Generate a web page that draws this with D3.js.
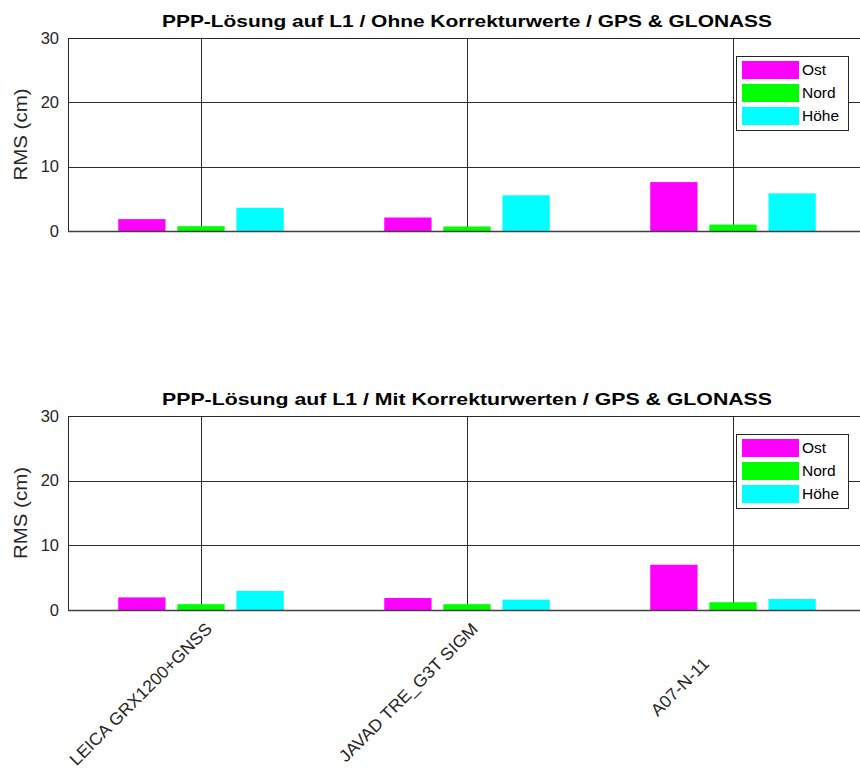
<!DOCTYPE html>
<html>
<head>
<meta charset="utf-8">
<script src="https://cdn.jsdelivr.net/npm/d3@7"></script>
<style>
  html, body { margin: 0; padding: 0; background: #fff; }
  svg text { font-family: "Liberation Sans", Arial, Helvetica, sans-serif; }
</style>
</head>
<body>
<svg id="chart" width="860" height="771"></svg>
<script>
// Receivers (category axis); MATLAB-style char array rows are padded to equal length
const categories = ["LEICA GRX1200+GNSS", "JAVAD TRE_G3T SIGM", "A07-N-11"];
const seriesNames = ["Ost", "Nord", "Höhe"];
const seriesColors = ["#ff00ff", "#00ff00", "#00ffff"];
const yTicks = [0, 10, 20, 30];

// RMS (cm) without correction values
const ohneOst   = [1.85, 2.1, 7.6];
const ohneNord  = [0.75, 0.7, 1.0];
const ohneHoehe = [3.6, 5.55, 5.85];

// RMS (cm) with correction values
const mitOst   = [1.95, 1.85, 7.0];
const mitNord  = [0.9, 0.9, 1.2];
const mitHoehe = [2.95, 1.6, 1.7];

const panels = [
  { title: "PPP-Lösung auf L1 / Ohne Korrekturwerte / GPS & GLONASS",
    series: [ohneOst, ohneNord, ohneHoehe], top: 38, bottom: 231, showX: false },
  { title: "PPP-Lösung auf L1 / Mit Korrekturwerten / GPS & GLONASS",
    series: [mitOst, mitNord, mitHoehe], top: 416, bottom: 610, showX: true }
];

const svg = d3.select("#chart");
const left = 68, right = 866;
const axisColor = "#262626";
const padLen = d3.max(categories, c => c.length);

// grouped bar geometry (in category units)
const nSeries = seriesNames.length;
const groupWidth = Math.min(0.8, nSeries / (nSeries + 1.5));
const step = groupWidth / nSeries;
const barW = step * 0.8;

const x = d3.scaleLinear().domain([0.5, categories.length + 0.5]).range([left, right]);

panels.forEach(p => {
  const y = d3.scaleLinear().domain([0, 30]).range([p.bottom, p.top]);
  const g = svg.append("g");

  // horizontal grid
  g.append("g")
    .attr("transform", `translate(${left},0)`)
    .call(d3.axisLeft(y).tickValues(yTicks).tickSize(-(right - left)).tickFormat(""))
    .call(a => a.select(".domain").remove())
    .call(a => a.selectAll("line").attr("stroke", "#2b2b2b").attr("stroke-width", 1).attr("shape-rendering", "crispEdges"));

  // vertical grid at category centres
  g.append("g")
    .attr("transform", `translate(0,${p.top})`)
    .call(d3.axisBottom(x).tickValues(categories.map((c, i) => i + 1)).tickSize(p.bottom - p.top).tickFormat(""))
    .call(a => a.select(".domain").remove())
    .call(a => a.selectAll("line").attr("stroke", "#2b2b2b").attr("stroke-width", 1).attr("shape-rendering", "crispEdges"));

  // bars
  p.series.forEach((vals, j) => {
    g.append("g").selectAll("rect")
      .data(vals)
      .join("rect")
      .attr("x", (v, i) => x(i + 1 + (j - (nSeries - 1) / 2) * step - barW / 2))
      .attr("width", x(barW) - x(0))
      .attr("y", v => y(v))
      .attr("height", v => y(0) - y(v))
      .attr("fill", seriesColors[j]);
  });

  // axes frame
  g.append("rect")
    .attr("x", left + 0.5).attr("y", p.top + 0.5)
    .attr("width", right - left).attr("height", p.bottom - p.top)
    .attr("fill", "none").attr("stroke", axisColor).attr("stroke-width", 1)
    .attr("shape-rendering", "crispEdges");
  g.append("line")
    .attr("x1", left).attr("x2", right)
    .attr("y1", y(0) + 0.5).attr("y2", y(0) + 0.5)
    .attr("stroke", "#404040").attr("stroke-width", 1.5);

  // y tick labels
  g.append("g")
    .attr("transform", `translate(${left},0)`)
    .call(d3.axisLeft(y).tickValues(yTicks).tickSize(0).tickPadding(9))
    .call(a => a.select(".domain").remove())
    .call(a => a.selectAll("text").attr("fill", axisColor)
      .style("font-size", "16.5px").style("font-family", "'Liberation Sans', Arial, sans-serif"));

  // y label
  g.append("text")
    .attr("transform", `translate(27,${(p.top + p.bottom) / 2}) rotate(-90)`)
    .attr("text-anchor", "middle")
    .attr("fill", axisColor)
    .attr("textLength", 92)
    .attr("lengthAdjust", "spacingAndGlyphs")
    .style("font-size", "18.5px")
    .text("RMS (cm)");

  // title
  g.append("text")
    .attr("x", (left + right) / 2).attr("y", p.top - 11)
    .attr("text-anchor", "middle")
    .attr("fill", "#000")
    .attr("textLength", 610)
    .attr("lengthAdjust", "spacingAndGlyphs")
    .style("font-size", "17px").style("font-weight", "bold")
    .text(p.title);

  // x tick labels, rotated
  if (p.showX) {
    g.append("g").selectAll("text")
      .data(categories)
      .join("text")
      .attr("transform", (c, i) => `translate(${x(i + 1) + 12},${p.bottom + 20}) rotate(-45) scale(1.04,1)`)
      .attr("text-anchor", "end")
      .attr("fill", axisColor)
      .style("font-size", "17px")
      .style("white-space", "pre")
      .attr("xml:space", "preserve")
      .text(c => c.padEnd(padLen, " "));
  }

  // legend
  const lg = g.append("g").attr("transform", `translate(736,${p.top + 18})`);
  lg.append("rect")
    .attr("x", 0.5).attr("y", 0.5).attr("width", 112).attr("height", 74)
    .attr("fill", "#fff").attr("stroke", axisColor).attr("stroke-width", 1)
    .attr("shape-rendering", "crispEdges");
  seriesNames.forEach((name, j) => {
    lg.append("rect")
      .attr("x", 6).attr("y", 5 + j * 23).attr("width", 57).attr("height", 18)
      .attr("fill", seriesColors[j]);
    lg.append("text")
      .attr("x", 66).attr("y", 19 + j * 23)
      .attr("fill", "#000")
      .style("font-size", "15.5px")
      .text(name);
  });
});
</script>
</body>
</html>
